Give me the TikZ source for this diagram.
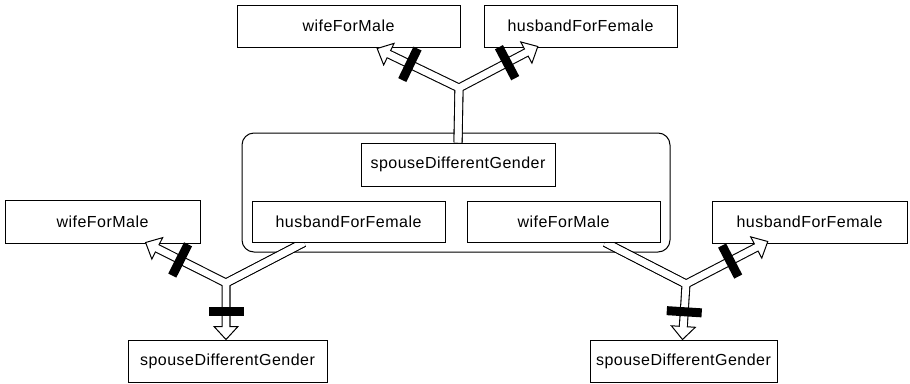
\documentclass[tikz,border=0pt]{standalone}
\usepackage{fontspec}
\setmainfont[LetterSpace=3]{Liberation Sans}
\usetikzlibrary{calc}
\pgfdeclarelayer{bg}
\pgfdeclarelayer{mid}
\pgfdeclarelayer{top}
\pgfsetlayers{bg,mid,main,top}

\begin{document}
\begin{tikzpicture}[x=1pt,y=-1pt,
  box/.style={draw=black, line width=1pt, fill=white, inner sep=0pt,
    font=\fontsize{16}{19}\selectfont},
  group/.style={draw=black, line width=1pt, fill=white, rounded corners=12pt, inner sep=0pt},
  wireout/.style={draw=black, line width=9pt, line join=miter},
  wirein/.style={draw=white, line width=6.8pt, line join=miter},
  head/.style={draw=black, fill=white, line width=1pt, line join=miter},
  barmark/.style={draw=black, line width=9pt}]
\useasboundingbox (0,0) rectangle (910,383);

\begin{pgfonlayer}{bg}
  \node[group, minimum width=428pt, minimum height=119pt] (grp) at (456,192.5) {};
\end{pgfonlayer}

\begin{pgfonlayer}{mid}
  % top row
  \node[box, minimum width=223pt, minimum height=42pt] (tw) at (348.5,26) {wifeForMale};
  \node[box, minimum width=193pt, minimum height=42pt] (th) at (580.5,26) {husbandForFemale};
  % left side
  \node[box, minimum width=195pt, minimum height=43pt] (lw) at (102.5,221.5) {wifeForMale};
  \node[box, minimum width=199pt, minimum height=42pt] (ls) at (227.5,361) {spouseDifferentGender};
  % right side
  \node[box, minimum width=195pt, minimum height=42pt] (rh) at (809.5,222) {husbandForFemale};
  \node[box, minimum width=187pt, minimum height=42pt] (rs) at (683.5,361) {spouseDifferentGender};
\end{pgfonlayer}

\begin{pgfonlayer}{top}
  % boxes inside the group
  \node[box, minimum width=194pt, minimum height=43pt] (c0) at (458,164.5) {spouseDifferentGender};
  \node[box, minimum width=193pt, minimum height=41pt] (c1) at (348.5,221.5) {husbandForFemale};
  \node[box, minimum width=193pt, minimum height=41pt] (c2) at (563.5,221.5) {wifeForMale};
\end{pgfonlayer}

% start points, forks and arrow tips
\coordinate (s0) at (c0.north);
\coordinate (J0) at (459,88);
\coordinate (t0a) at ($(tw.south west)!0.628!(tw.south east)+(0,1)$);
\coordinate (t0b) at ($(th.south west)!0.28!(th.south east)+(0,-1)$);

\coordinate (s1) at ($(c1.south west)!0.27!(c1.south east)$);
\coordinate (J1) at (226,283);
\coordinate (t1l) at ($(lw.south west)!0.72!(lw.south east)+(0,-1)$);
\coordinate (t1d) at ($(ls.north west)!0.4925!(ls.north east)$);

\coordinate (s2) at ($(c2.south west)!0.715!(c2.south east)$);
\coordinate (J2) at (686,284);
\coordinate (t2r) at ($(rh.south west)!0.287!(rh.south east)+(0,-2)$);
\coordinate (t2d) at ($(rs.north west)!0.4947!(rs.north east)$);

% arrow heads and bar marks of each arm
\foreach \j/\t/\f/\n in {J0/t0a/0.6/a, J0/t0b/0.61/b, J1/t1l/0.57/c,
                         J1/t1d/0.5/d, J2/t2r/0.54/e, J2/t2d/0.5/f} {
  \coordinate (\n-base) at ($(\t)!13pt!(\j)$);
  \coordinate (\n-wend) at ($(\t)!11pt!(\j)$);
  \coordinate (\n-hl) at ($(\n-base)!12pt!90:(\t)$);
  \coordinate (\n-hr) at ($(\n-base)!12pt!-90:(\t)$);
  \coordinate (\n-mid) at ($(\j)!\f!(\t)$);
  \coordinate (\n-bl) at ($(\n-mid)!17.5pt!90:(\t)$);
  \coordinate (\n-br) at ($(\n-mid)!17.5pt!-90:(\t)$);
}

% outer strokes of the hollow connectors
\draw[wireout] (s0) -- (J0) -- (a-base);
\draw[wireout] (s0) -- (J0) -- (b-base);
\draw[wireout] (s1) -- (J1) -- (c-base);
\draw[wireout] (s1) -- (J1) -- (d-base);
\draw[wireout] (s2) -- (J2) -- (e-base);
\draw[wireout] (s2) -- (J2) -- (f-base);

% open triangle heads
\foreach \n/\t in {a/t0a, b/t0b, c/t1l, d/t1d, e/t2r, f/t2d}
  \draw[head] (\t) -- (\n-hl) -- (\n-hr) -- cycle;

% hollow interiors
\draw[wirein] (s0) -- (J0) -- (a-wend);
\draw[wirein] (s0) -- (J0) -- (b-wend);
\draw[wirein] (s1) -- (J1) -- (c-wend);
\draw[wirein] (s1) -- (J1) -- (d-wend);
\draw[wirein] (s2) -- (J2) -- (e-wend);
\draw[wirein] (s2) -- (J2) -- (f-wend);

% bar marks across the arms
\foreach \n in {a,b,c,d,e,f}
  \draw[barmark] (\n-bl) -- (\n-br);
\end{tikzpicture}
\end{document}
